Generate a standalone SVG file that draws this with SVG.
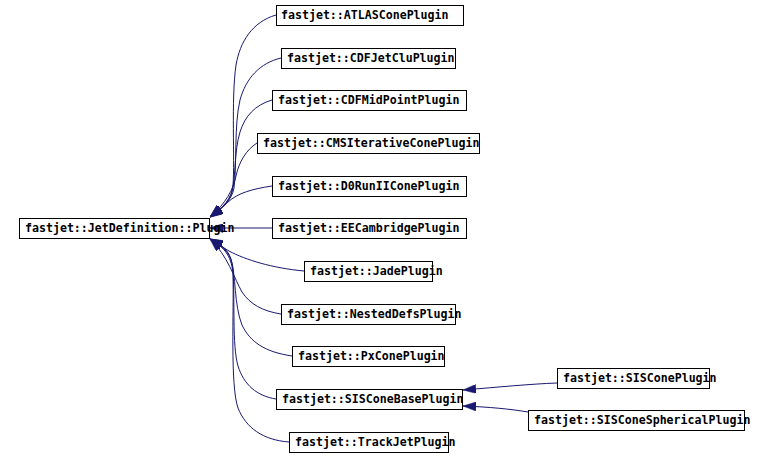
<svg xmlns="http://www.w3.org/2000/svg" width="758" height="457" viewBox="0 0 758 457">
<style>
.box{fill:#ffffff;stroke:#000000;stroke-width:1}
.lbl{font-family:"DejaVu Sans Mono","Liberation Mono",monospace;font-weight:bold;font-size:11.6px;fill:#000000}
.edge{fill:none;stroke:#191970;stroke-width:1;marker-end:url(#arr)}
</style>
<defs>
<marker id="arr" markerUnits="userSpaceOnUse" markerWidth="13" markerHeight="9" viewBox="0 0 13 9" refX="13" refY="4.5" orient="auto">
<path d="M0,0 L13,4.5 L0,9 z" fill="#191970" stroke="#191970" stroke-width="0.5"/>
</marker>
</defs>
<rect width="758" height="457" fill="#ffffff"/>
<g id="connectors">
<path class="edge" d="M276,15 C252,22 240,42 236,65 C231,100 235,160 233,185 C232,198 223,208 210,217"/>
<path class="edge" d="M281,58 C260,63 246,78 240,100 C234,125 237,165 234,188 C232,200 222,209 210,217"/>
<path class="edge" d="M272,100 C255,105 245,116 240,132 C234,152 236,175 232,192 C229,202 221,210 210,217"/>
<path class="edge" d="M257,143 C246,150 239,162 236,176 C233,190 226,203 210,217"/>
<path class="edge" d="M272,186 C252,189 238,193 228,202 C222,207 216,212 210,217"/>
<path class="edge" d="M272,228 L210,228"/>
<path class="edge" d="M304,271 C272,268 246,260 229,251 C222,247 216,242 210,239"/>
<path class="edge" d="M281,314 C262,311 250,304 242,292 C234,278 228,256 210,239"/>
<path class="edge" d="M292,356 C265,352 250,342 242,325 C234,305 236,275 231,259 C228,250 222,245 210,239"/>
<path class="edge" d="M276,399 C257,396 244,385 238,366 C232,345 235,300 233,270 C232,255 225,247 210,239"/>
<path class="edge" d="M289,442 C263,440 246,428 238,408 C230,385 234,310 233,275 C232,258 226,248 210,239"/>
<path class="edge" d="M557,383 C530,384 500,387 463,390"/>
<path class="edge" d="M528,412 C510,409 490,407 463,406"/>
</g>
<g id="plugin"><rect class="box" x="19.5" y="218.5" width="190" height="20"/><text class="lbl" x="25" y="232">fastjet::JetDefinition::Plugin</text></g>
<g id="atlas"><rect class="box" x="276.5" y="5.5" width="187" height="20"/><text class="lbl" x="281" y="19">fastjet::ATLASConePlugin</text></g>
<g id="cdfjetclu"><rect class="box" x="281.5" y="48.5" width="174" height="20"/><text class="lbl" x="287" y="62">fastjet::CDFJetCluPlugin</text></g>
<g id="cdfmidpoint"><rect class="box" x="272.5" y="90.5" width="194" height="20"/><text class="lbl" x="278" y="104">fastjet::CDFMidPointPlugin</text></g>
<g id="cmsiterative"><rect class="box" x="257.5" y="133.5" width="222" height="20"/><text class="lbl" x="263" y="147">fastjet::CMSIterativeConePlugin</text></g>
<g id="d0runii"><rect class="box" x="272.5" y="176.5" width="194" height="20"/><text class="lbl" x="278" y="190">fastjet::D0RunIIConePlugin</text></g>
<g id="eecambridge"><rect class="box" x="272.5" y="218.5" width="194" height="20"/><text class="lbl" x="278" y="232">fastjet::EECambridgePlugin</text></g>
<g id="jade"><rect class="box" x="304.5" y="261.5" width="128" height="20"/><text class="lbl" x="310" y="275">fastjet::JadePlugin</text></g>
<g id="nesteddefs"><rect class="box" x="281.5" y="304.5" width="174" height="20"/><text class="lbl" x="287" y="318">fastjet::NestedDefsPlugin</text></g>
<g id="pxcone"><rect class="box" x="292.5" y="346.5" width="152" height="20"/><text class="lbl" x="298" y="360">fastjet::PxConePlugin</text></g>
<g id="sisconebase"><rect class="box" x="276.5" y="389.5" width="186" height="20"/><text class="lbl" x="282" y="403">fastjet::SISConeBasePlugin</text></g>
<g id="trackjet"><rect class="box" x="289.5" y="432.5" width="159" height="20"/><text class="lbl" x="295" y="446">fastjet::TrackJetPlugin</text></g>
<g id="siscone"><rect class="box" x="557.5" y="368.5" width="152" height="20"/><text class="lbl" x="563" y="382">fastjet::SISConePlugin</text></g>
<g id="sisconespherical"><rect class="box" x="528.5" y="410.5" width="216" height="20"/><text class="lbl" x="534" y="424">fastjet::SISConeSphericalPlugin</text></g>
</svg>
